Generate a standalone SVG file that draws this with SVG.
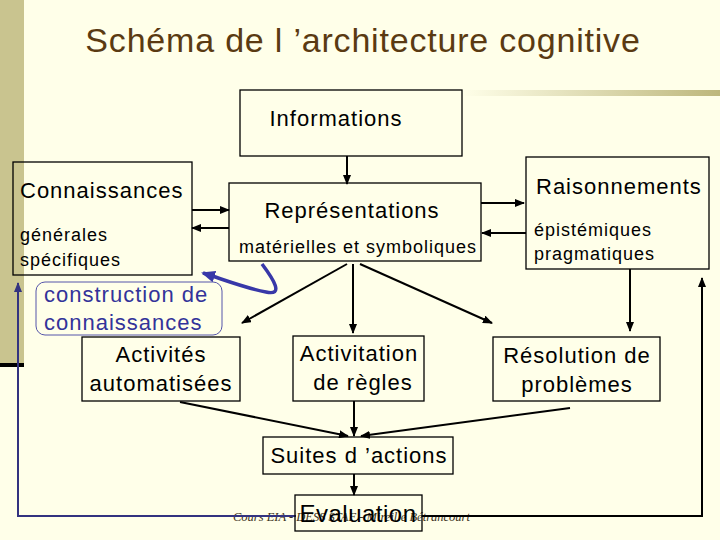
<svg xmlns="http://www.w3.org/2000/svg" width="720" height="540" viewBox="0 0 720 540">
<defs>
<linearGradient id="gbar" x1="0" y1="0" x2="1" y2="0">
<stop offset="0" stop-color="#FFFFE9"/>
<stop offset="1" stop-color="#BDB77C"/>
</linearGradient>
<marker id="ah" markerUnits="userSpaceOnUse" markerWidth="10" markerHeight="8" refX="9" refY="4" orient="auto">
<path d="M0,0 L10,4 L0,8 Z" fill="#000"/>
</marker>
<marker id="ahb" markerUnits="userSpaceOnUse" markerWidth="10" markerHeight="8" refX="9" refY="4" orient="auto">
<path d="M0,0 L10,4 L0,8 Z" fill="#333380"/>
</marker>
<marker id="ahc" markerUnits="userSpaceOnUse" markerWidth="14" markerHeight="12" refX="12" refY="6" orient="auto">
<path d="M0,0 L14,6 L0,12 Z" fill="#3838A8"/>
</marker>
</defs>
<style>
.box{fill:none;stroke:#000;stroke-width:1.3}
.t{font-family:"Liberation Sans",Arial,sans-serif;fill:#000}
.big{font-size:22px;letter-spacing:1px}
.sm{font-size:18px;letter-spacing:1px}
.c{stroke:#000;stroke-width:2;fill:none;marker-end:url(#ah)}
.cb{stroke:#333380;stroke-width:2;fill:none;marker-end:url(#ahb)}
</style>
<rect width="720" height="540" fill="#FFFFE9"/>
<rect x="0" y="0" width="24" height="364" fill="#C9C48F"/>
<rect x="0" y="363" width="24" height="4" fill="#000"/>
<rect x="462" y="90" width="258" height="6" fill="url(#gbar)"/>
<text x="363" y="52" text-anchor="middle" font-family="Liberation Sans, Arial, sans-serif" font-size="34" letter-spacing="0.8" fill="#5A3A12">Schéma de l ’architecture cognitive</text>

<text x="233" y="521" font-family="Liberation Serif, Times New Roman, serif" font-style="italic" font-size="12.5" fill="#3A3020">Cours EIA - DESS STAF - Mireille Bétrancourt</text>

<g id="connectors">
<line class="c" x1="347" y1="156" x2="347" y2="184"/>
<line class="c" x1="192" y1="210" x2="229" y2="210"/>
<line class="c" x1="229" y1="228" x2="192" y2="228"/>
<line class="c" x1="481" y1="203" x2="524" y2="203"/>
<line class="c" x1="526" y1="233" x2="482" y2="233"/>
<line class="c" x1="630" y1="269" x2="630" y2="331"/>
<line class="c" x1="347" y1="264" x2="242" y2="323"/>
<line class="c" x1="353" y1="264" x2="353" y2="333"/>
<line class="c" x1="360" y1="264" x2="492" y2="323"/>
<line class="c" x1="180" y1="402" x2="348" y2="436"/>
<line class="c" x1="354" y1="401" x2="354" y2="436"/>
<line class="c" x1="570" y1="408" x2="361" y2="436"/>
<line class="c" x1="354" y1="474" x2="354" y2="495"/>
<polyline class="cb" points="296,516 18,516 18,283"/>
<polyline class="c" points="422,516 702,516 702,278"/>
<path d="M262,264 C274,280 284,296 266,292 C245,288 225,280 203,273" stroke="#3838A8" stroke-width="3.5" fill="none" marker-end="url(#ahc)"/>
</g>

<g id="informations">
<rect class="box" x="240" y="90" width="222" height="66"/>
<text class="t big" x="336" y="126" text-anchor="middle">Informations</text>
</g>
<g id="connaissances">
<rect class="box" x="13" y="162" width="179" height="113"/>
<text class="t big" x="20" y="198">Connaissances</text>
<text class="t sm" x="20" y="241">générales</text>
<text class="t sm" x="20" y="266">spécifiques</text>
</g>
<g id="representations">
<rect class="box" x="229" y="183" width="252" height="78"/>
<text class="t big" x="352" y="218" text-anchor="middle">Représentations</text>
<text class="t sm" x="358" y="253" text-anchor="middle">matérielles et symboliques</text>
</g>
<g id="raisonnements">
<rect class="box" x="526" y="157" width="183" height="112"/>
<text class="t big" x="536" y="194">Raisonnements</text>
<text class="t sm" x="534" y="236">épistémiques</text>
<text class="t sm" x="534" y="260">pragmatiques</text>
</g>
<g id="construction">
<rect x="36" y="282" width="186" height="53" rx="9" fill="#FFFFE9" stroke="#5555AA" stroke-width="1"/>
<text x="44" y="302" font-family="Liberation Sans, Arial, sans-serif" font-size="22" letter-spacing="1" fill="#33339A">construction de</text>
<text x="44" y="330" font-family="Liberation Sans, Arial, sans-serif" font-size="22" letter-spacing="1" fill="#33339A">connaissances</text>
</g>
<g id="activites">
<rect class="box" x="82" y="337" width="158" height="64"/>
<text class="t big" x="161" y="362" text-anchor="middle">Activités</text>
<text class="t big" x="161" y="391" text-anchor="middle">automatisées</text>
</g>
<g id="activitation">
<rect class="box" x="293" y="336" width="131" height="65"/>
<text class="t big" x="359" y="361" text-anchor="middle">Activitation</text>
<text class="t big" x="363" y="390" text-anchor="middle">de règles</text>
</g>
<g id="resolution">
<rect class="box" x="493" y="337" width="167" height="64"/>
<text class="t big" x="577" y="363" text-anchor="middle">Résolution de</text>
<text class="t big" x="577" y="392" text-anchor="middle">problèmes</text>
</g>
<g id="suites">
<rect class="box" x="263" y="437" width="190" height="37"/>
<text class="t big" x="359" y="463" text-anchor="middle">Suites d ’actions</text>
</g>
<g id="evaluation">
<rect class="box" x="295" y="495" width="127" height="36"/>
<text class="t" x="358" y="522" text-anchor="middle" font-size="24" letter-spacing="0.5">Evaluation</text>
</g>
</svg>
